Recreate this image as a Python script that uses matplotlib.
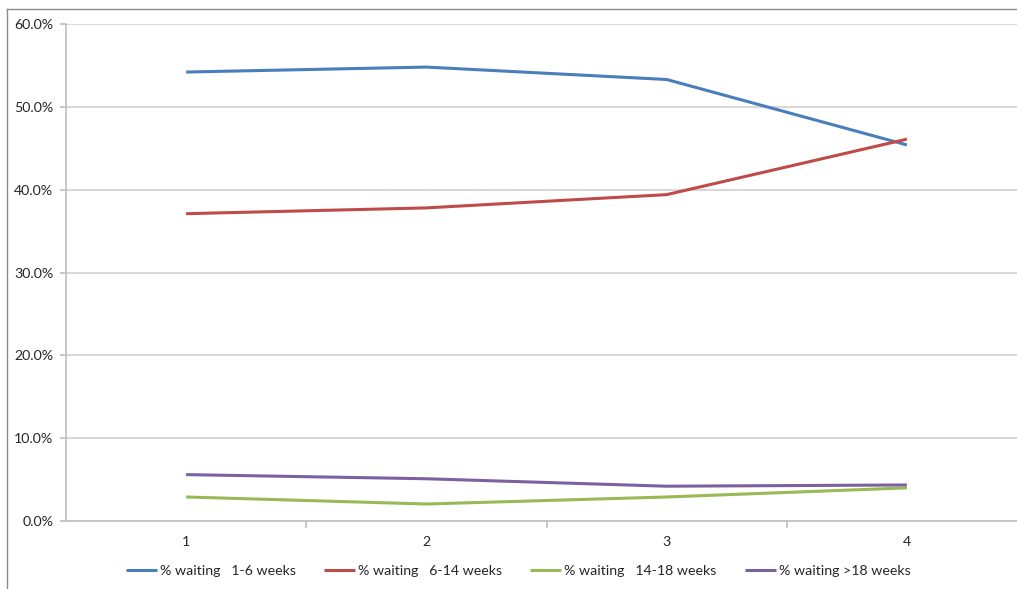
import matplotlib
matplotlib.use("Agg")
import matplotlib.pyplot as plt
from matplotlib.lines import Line2D
from matplotlib.ticker import PercentFormatter, FixedLocator

plt.rcParams['font.family'] = ['Lato', 'DejaVu Sans']

periods = [1, 2, 3, 4]
wait_1_6 = [54.2, 54.8, 53.3, 45.4]
wait_6_14 = [37.1, 37.8, 39.4, 46.1]
wait_14_18 = [2.9, 2.05, 2.9, 4.0]
wait_over_18 = [5.6, 5.1, 4.2, 4.35]

series_labels = ["% waiting   1-6 weeks", "% waiting   6-14 weeks",
                 "% waiting   14-18 weeks", "% waiting >18 weeks"]
series_colors = ["#4A7EBB", "#BE4B48", "#98B954", "#7D60A0"]
y_ticks = [0, 10, 20, 30, 40, 50, 60]

W, H = 1017, 589
fig = plt.figure(figsize=(W / 100, H / 100), dpi=100)
fig.patch.set_facecolor("white")

# outer chart frame (left and top edges visible)
fig.add_artist(Line2D([7 / W, 7 / W], [0, 1 - 9 / H], color="#8C8C8C", lw=1.0))
fig.add_artist(Line2D([7 / W, 1], [1 - 9 / H, 1 - 9 / H], color="#8C8C8C", lw=1.0))

left, right, top, bottom = 66, 1027, 24, 521
ax = fig.add_axes([left / W, 1 - bottom / H, (right - left) / W, (bottom - top) / H])

for vals, lab, col in zip([wait_1_6, wait_6_14, wait_14_18, wait_over_18],
                          series_labels, series_colors):
    ax.plot(periods, vals, color=col, lw=2.2, label=lab, solid_capstyle="butt")

ax.set_xlim(0.5, 4.5)
ax.set_ylim(0, 60)
ax.set_yticks(y_ticks)
ax.yaxis.set_major_formatter(PercentFormatter(decimals=1))
ax.grid(axis="y", color="#D4D4D4", lw=1.3)
ax.set_axisbelow(True)

ax.xaxis.set_major_locator(FixedLocator([1.5, 2.5, 3.5]))
ax.set_xticklabels([])
ax.xaxis.set_minor_locator(FixedLocator(periods))
ax.set_xticklabels([str(p) for p in periods], minor=True)
ax.tick_params(axis="x", which="major", length=5, color="#BFBFBF", width=1.2)
ax.tick_params(axis="x", which="minor", length=0, pad=11, labelsize=10.2, labelcolor="#262626")
ax.tick_params(axis="y", length=4, color="#BFBFBF", width=1.2, pad=5,
               labelsize=10.2, labelcolor="#262626")

for s in ["top", "right"]:
    ax.spines[s].set_visible(False)
for s in ["left", "bottom"]:
    ax.spines[s].set_color("#BFBFBF")
    ax.spines[s].set_linewidth(1.2)

fig.legend(loc="center", bbox_to_anchor=(518 / W, 1 - 571 / H), ncol=4,
           frameon=False, fontsize=10.2, handlelength=2.2, handletextpad=0.2,
           columnspacing=2.0, labelcolor="#262626")

fig.savefig("out.png", dpi=100, facecolor="white")
